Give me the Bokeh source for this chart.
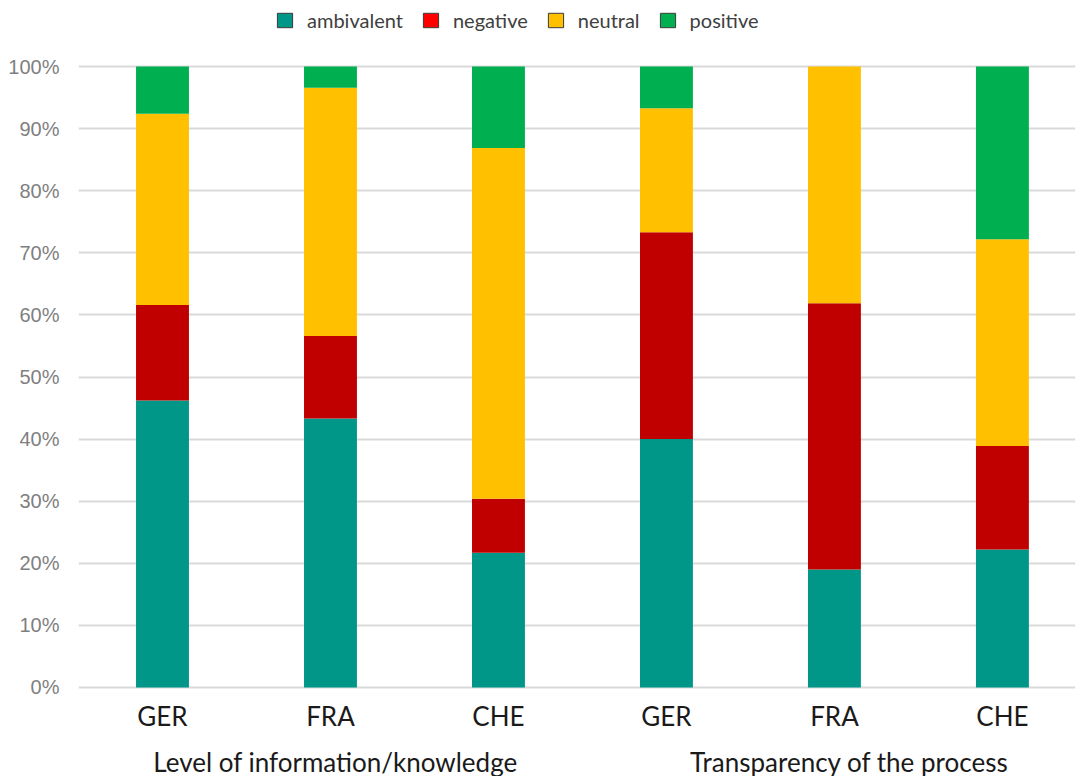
from bokeh.plotting import figure
from bokeh.layouts import column
from bokeh.models import (Range1d, FixedTicker, PrintfTickFormatter, Legend,
                          LegendItem, ColumnDataSource)
from bokeh.core.properties import value
from bokeh.embed import file_html
from bokeh.resources import INLINE

# ---- data ----
countries = ["GER", "FRA", "CHE", "GER", "FRA", "CHE"]
groups = ["Level of information/knowledge", "Transparency of the process"]
group_of_bar = [0, 0, 0, 1, 1, 1]
ambivalent = [46.2, 43.3, 21.7, 40.0, 19.0, 22.2]
negative = [15.4, 13.3, 8.7, 33.3, 42.9, 16.7]
neutral = [30.8, 40.0, 56.5, 20.0, 38.1, 33.3]
positive = [7.6, 3.4, 13.1, 6.7, 0.0, 27.8]
series = ["ambivalent", "negative", "neutral", "positive"]
y_ticks = list(range(0, 101, 10))

bar_colors = ["#009688", "#C00000", "#FFC000", "#00B050"]
legend_colors = ["#009688", "#FF0000", "#FFC000", "#00B050"]
group_label_shift = [5, 15]   # small pixel nudges of the group captions

xs = list(range(len(countries)))
source = ColumnDataSource(dict(x=xs, ambivalent=ambivalent, negative=negative,
                               neutral=neutral, positive=positive))
x_range = Range1d(-0.5, 5.435)

# ---- legend strip ----
lf = figure(width=1079, height=40, output_backend="svg", toolbar_location=None,
            x_range=Range1d(0, 1), y_range=Range1d(0, 1),
            min_border_left=78, min_border_right=4, min_border_top=0,
            min_border_bottom=0)
lf.outline_line_color = None
lf.axis.visible = False
lf.grid.visible = False
proxy = ColumnDataSource(dict(x=[float("nan")], top=[float("nan")]))
items = []
for name, col in zip(series, legend_colors):
    r = lf.vbar(x="x", top="top", width=0.3, source=proxy, fill_color=col,
                line_color="#3a3a3a", line_width=1)
    items.append(LegendItem(label=name, renderers=[r]))
legend = Legend(items=items, orientation="horizontal", location=(197, 8),
                glyph_width=19, glyph_height=18, label_standoff=13, spacing=18,
                padding=0, margin=0, background_fill_alpha=0,
                border_line_color=None, label_text_font="Lato",
                label_text_font_size="20px", label_text_color="#404040")
lf.add_layout(legend, "center")

# ---- main chart ----
p = figure(width=1079, height=696, output_backend="svg", toolbar_location=None,
           x_range=x_range, y_range=Range1d(-0.5, 100.5),
           min_border_left=78, min_border_right=4, min_border_top=23,
           min_border_bottom=46)
p.outline_line_color = None
p.background_fill_color = "white"
p.border_fill_color = "white"

p.vbar_stack(series, x="x", width=0.315, source=source, color=bar_colors,
             line_color=None)

p.xaxis.ticker = FixedTicker(ticks=xs)
p.xaxis.major_label_overrides = {i: c for i, c in zip(xs, countries)}
p.xaxis.major_label_text_font = "Lato"
p.xaxis.major_label_text_font_size = "26px"
p.xaxis.major_label_text_color = "#1a1a1a"
p.xaxis.major_label_standoff = 3
p.xaxis.axis_line_color = None
p.xaxis.major_tick_line_color = None
p.xaxis.minor_tick_line_color = None

p.yaxis.ticker = FixedTicker(ticks=y_ticks)
p.yaxis.formatter = PrintfTickFormatter(format="%d%%")
p.yaxis.major_label_text_font = "Liberation Sans"
p.yaxis.major_label_text_font_size = "20px"
p.yaxis.major_label_text_color = "#7f7f7f"
p.yaxis.major_label_standoff = 13
p.yaxis.axis_line_color = None
p.yaxis.major_tick_line_color = None
p.yaxis.minor_tick_line_color = None

p.xgrid.grid_line_color = None
p.ygrid.grid_line_color = "#d9d9d9"
p.ygrid.grid_line_width = 2

# ---- group label strip (shares the x scale) ----
gf = figure(width=1079, height=40, output_backend="svg", toolbar_location=None,
            x_range=x_range, y_range=Range1d(40, 0),
            min_border_left=78, min_border_right=4, min_border_top=0,
            min_border_bottom=0)
gf.outline_line_color = None
gf.axis.visible = False
gf.grid.visible = False
group_x = []
for gi in range(len(groups)):
    members = [x for x, gb in zip(xs, group_of_bar) if gb == gi]
    group_x.append(sum(members) / len(members))
gsrc = ColumnDataSource(dict(x=group_x, text=groups, xoff=group_label_shift))
gf.text(x="x", y=25, text="text", source=gsrc, x_offset="xoff",
        text_align="center", text_baseline="alphabetic",
        text_font=value("Lato"), text_font_size="26px", text_color="#1a1a1a")

open("out.html", "w").write(file_html(column(lf, p, gf, spacing=0), INLINE))
